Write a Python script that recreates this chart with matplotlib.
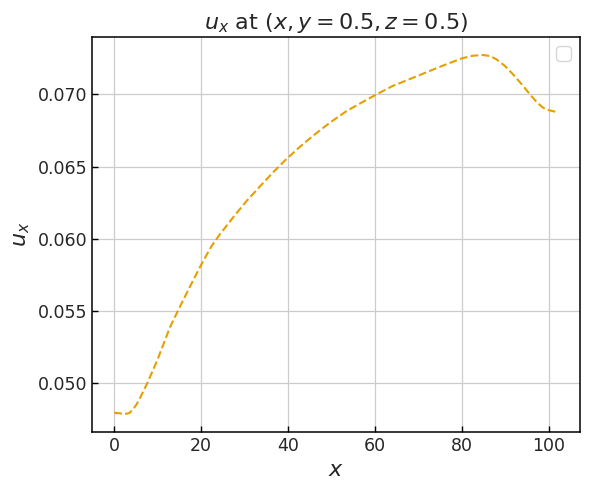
#!/usr/bin/env python3

import matplotlib
matplotlib.use('Agg')
import matplotlib.pyplot as plt
import numpy as np

# values
x_pos = [0.0, 1.2, 2.5, 3.5, 4.4, 5.2, 6.0, 7.5, 9.8, 12.8, 14.8, 17.5, 20.0,
	22.4, 24.3, 27.4, 30.4, 33.5, 36.6, 39.6, 42.7, 45.7, 49.5, 53.4, 57.0,
	60.0, 64.0, 68.7, 72.5, 76.3, 80.0, 82.5, 84.8, 86.5, 87.9, 89.8, 91.7,
	93.7, 95.6, 97.2, 98.6, 100.0, 102.0]
u_x = [0.04794, 0.04790, 0.04785, 0.04792, 0.04820, 0.04855, 0.04900, 0.04993,
	0.05150, 0.05385, 0.05510, 0.05673, 0.05820, 0.05950, 0.06030, 0.06150,
	0.06260, 0.06362, 0.06462, 0.06552, 0.06637, 0.06713, 0.06802, 0.06884,
	0.06945, 0.06995, 0.07058, 0.07115, 0.07162, 0.07208, 0.07250, 0.07268,
	0.07273, 0.07265, 0.07243, 0.07198, 0.07139, 0.07070, 0.07000, 0.06945,
	0.06908, 0.06890, 0.06876]

title = r"$u_x$ at $(x, y = 0.5, z = 0.5)$"


def plot():
	plt.rcParams['font.family'] = ['DejaVu Sans']
	plt.rcParams['text.color'] = '#262626'
	plt.rcParams['axes.labelcolor'] = '#262626'
	plt.rcParams['xtick.color'] = '#262626'
	plt.rcParams['ytick.color'] = '#262626'

	fig = plt.figure(figsize=(5.9, 4.9), dpi=100)
	ax = fig.add_axes([0.156, 0.1184, 0.827, 0.806])

	ax.plot(x_pos, u_x, color='#E69F00', linestyle='--', linewidth=1.5)

	ax.set_xticks([0, 20, 40, 60, 80, 100])
	ax.set_yticks([0.050, 0.055, 0.060, 0.065, 0.070])
	ax.set_yticklabels(["0.050", "0.055", "0.060", "0.065", "0.070"])
	ax.grid(True, color='#cccccc', linewidth=0.9)
	ax.set_axisbelow(True)
	ax.tick_params(direction='in', labelsize=12.5, length=4, width=1, color='black')
	for s in ax.spines.values():
		s.set_color('black')
		s.set_linewidth(1.1)

	ax.set_xlabel(r"$x$", fontsize=16)
	ax.set_ylabel(r"$u_x$", fontsize=16)
	ax.set_title(title, fontsize=16)
	ax.legend(loc='upper right', frameon=True, edgecolor='#cccccc', fontsize=13)

	fig.savefig('out.png', dpi=100)
	plt.close(fig)


if __name__ == "__main__":
	plot()
